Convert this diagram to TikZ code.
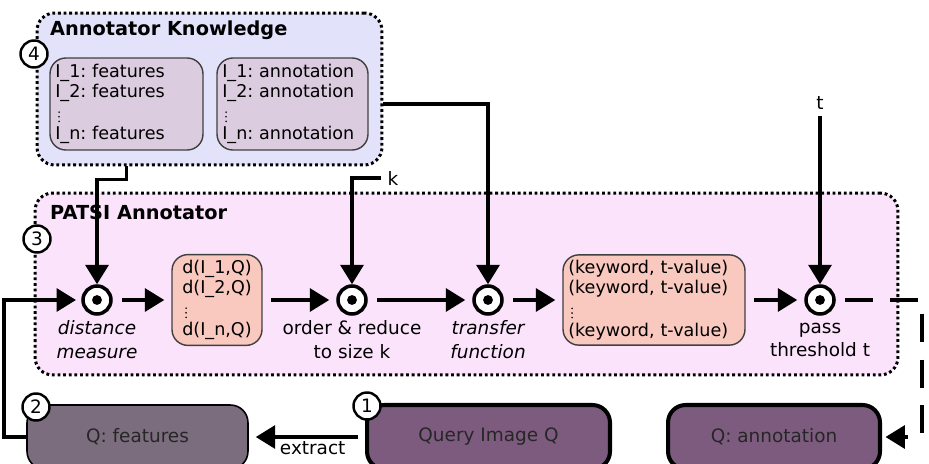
\documentclass[tikz,border=0pt]{standalone}
\usepackage{fontspec}
\setmainfont{DejaVu Sans}[BoldFont={DejaVu Sans Bold},ItalicFont={DejaVu Sans Oblique}]
\frenchspacing
\usetikzlibrary{arrows.meta,positioning}
\definecolor{knowbg}{HTML}{E2E2FA}
\definecolor{listbg}{HTML}{DCCCE0}
\definecolor{patsibg}{HTML}{FCE3FC}
\definecolor{salmon}{HTML}{F9C9BF}
\definecolor{qfeatbg}{HTML}{7B6C7E}
\definecolor{querybg}{HTML}{7D5B7F}
\tikzset{
  group/.style={draw, line width=1.7pt, dash pattern=on 1.6pt off 1.6pt,
    rounded corners=10pt, inner sep=0pt},
  grouptitle/.style={anchor=west, font=\fontsize{11}{13}\selectfont\bfseries},
  listbox/.style={draw=black!75, line width=0.8pt, rounded corners=9pt,
    align=left, inner sep=3pt, minimum height=1.84cm,
    font=\fontsize{10}{11.3}\selectfont},
  proc/.style={circle, draw, line width=2pt, fill=white, minimum size=0.56cm,
    inner sep=0pt, path picture={\fill[black] (path picture bounding box.center) circle(2.8pt);}},
  proclabel/.style={align=center, font=\fontsize{10.5}{13.6}\selectfont},
  qbox/.style={draw, rounded corners=10pt, minimum height=1.28cm,
    font=\fontsize{10.5}{12}\selectfont, text=black!85},
  number/.style={circle, draw, line width=1.4pt, fill=white, minimum size=0.54cm,
    inner sep=0pt, font=\fontsize{10.5}{12}\selectfont},
  flow/.style={line width=2pt, -{Triangle[length=11pt,width=13pt]}},
  outflow/.style={flow, dash pattern=on 16pt off 10pt}
}
\newcommand{\vdts}{\,\tikz[baseline=0pt]\foreach \i in {0,1,2}\fill (0pt,\i*2.6pt+0.5pt) circle(0.5pt);}
\begin{document}
\begin{tikzpicture}[x=0.02cm,y=-0.02cm]
  \useasboundingbox (0,0) rectangle (929,463);
  \clip (0,0) rectangle (929,463);

  \node[group, fill=knowbg, minimum width=6.9cm, minimum height=3.04cm] (know) at (209.5,89) {};
  \node[grouptitle] (knowtitle) at (44,30) {Annotator Knowledge};
  \node[listbox, fill=listbg, text width=3.06cm-6pt] (feat) at (126.5,104)
    {I\_1: features\\I\_2: features\\[3pt]\vdts\\[-1.2pt]I\_n: features};
  \node[listbox, fill=listbg, text width=3.02cm-6pt] (annot) at (292.5,104)
    {I\_1: annotation\\I\_2: annotation\\[3pt]\vdts\\[-1.2pt]I\_n: annotation};
  \node[number] (n4) at (34,54) {4};

  \node[group, fill=patsibg, minimum width=17.26cm, minimum height=3.64cm] (patsi) at (466.5,284) {};
  \node[grouptitle] (patsititle) at (44,212) {PATSI Annotator};
  \node[number] (n3) at (37,239) {3};

  \node[proc] (dist) at (97,300) {};
  \node[proc] (ordr) at (352,300) {};
  \node[proc] (trans) at (488,300) {};
  \node[proc] (pass) at (820,300) {};
  \node[proclabel, font=\fontsize{10.5}{13.6}\selectfont\itshape] (distlbl) at (97,340) {distance\\measure};
  \node[proclabel] (ordrlbl) at (352,340) {order \& reduce\\to size k};
  \node[proclabel, font=\fontsize{10.5}{13.6}\selectfont\itshape] (translbl) at (488,340) {transfer\\function};
  \node[proclabel] (passlbl) at (820,340) {pass\\threshold t};

  \node[listbox, fill=salmon, minimum width=1.8cm, minimum height=1.8cm] (dbox) at (217,300)
    {d(I\_1,Q)\\d(I\_2,Q)\\[3pt]\vdts\\[-1.2pt]d(I\_n,Q)};
  \node[listbox, fill=salmon, text width=3.64cm-6pt, minimum height=1.8cm] (kwbox) at (654,300)
    {(keyword, t-value)\\(keyword, t-value)\\[3pt]\vdts\\[-1.2pt](keyword, t-value)};

  \node[font=\fontsize{10.5}{12}\selectfont] (klbl) at (393,178) {k};
  \node[font=\fontsize{10.5}{12}\selectfont] (tlbl) at (820,103) {t};

  \node[qbox, fill=qfeatbg, line width=0.9pt, minimum width=4.42cm] (qfeat) at (137.5,437) {Q: features};
  \node[qbox, fill=querybg, line width=2.3pt, minimum width=4.86cm] (query) at (488.5,437) {Query Image Q};
  \node[qbox, fill=querybg, line width=2.3pt, minimum width=4.24cm] (qannot) at (774,437) {Q: annotation};
  \node[number] (n2) at (36,407) {2};
  \node[number] (n1) at (367,406) {1};

  \draw[flow] (feat.south |- know.south) -- ++(0,13) -| (dist.north);
  \draw[flow] (know.east |- annot.east) -| (trans.north);
  \draw[flow] (klbl.west) -| (ordr.north);
  \draw[flow] (tlbl.south) -- (pass.north);
  \draw[flow] (qfeat.west) -- ++(-22,0) |- ([xshift=-3pt]dist.west);
  \draw[flow, shorten <=5pt, shorten >=4pt] (dist) -- (dbox);
  \draw[flow, shorten <=5pt, shorten >=4pt] (dbox) -- (ordr);
  \draw[flow, shorten <=5pt, shorten >=4pt] (ordr) -- (trans);
  \draw[flow, shorten <=5pt, shorten >=4pt] (trans) -- (kwbox);
  \draw[flow, shorten <=5pt, shorten >=4pt] (kwbox) -- (pass);
  \coordinate (bend) at (922,300);
  \draw[outflow, shorten <=5pt, shorten >=2pt] (pass) -- (bend) |- (qannot.east);
  \draw[flow, shorten <=4pt, shorten >=4pt] (query.west) -- (qfeat.east)
    node[pos=0.45, below=-2pt, font=\fontsize{10.5}{12}\selectfont] (extract) {extract};
\end{tikzpicture}
\end{document}
